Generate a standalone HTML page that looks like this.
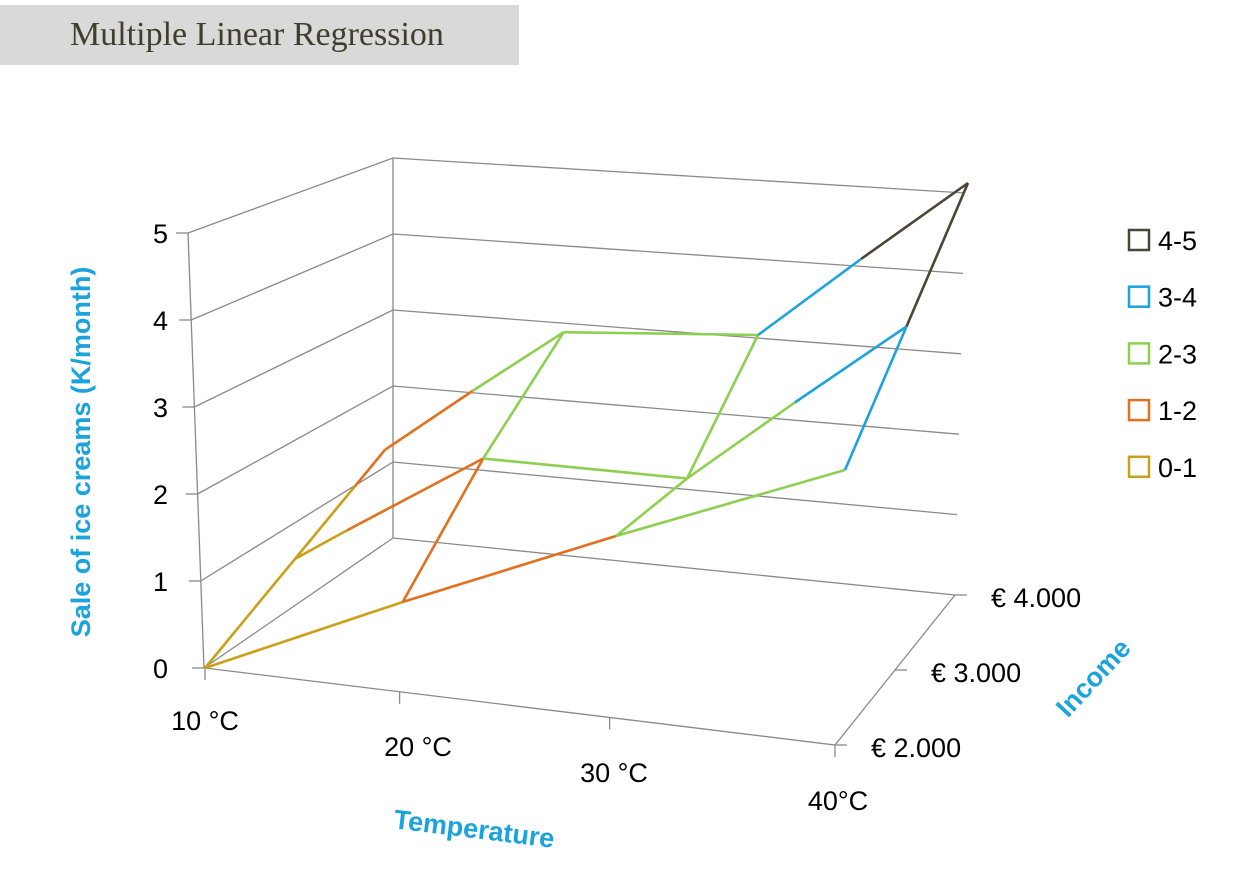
<!DOCTYPE html>
<html><head><meta charset="utf-8">
<style>
html,body{margin:0;padding:0;background:#fff;}
body{width:1253px;height:871px;position:relative;overflow:hidden;font-family:"Liberation Sans",sans-serif;}
#title{position:absolute;left:0;top:5px;width:519px;height:60px;background:#d9d9d9;}
#title span{position:absolute;left:70px;top:11px;font-family:"Liberation Serif",serif;font-size:34px;color:#3f3f2f;}
svg{position:absolute;left:0;top:0;}
</style></head>
<body>
<div id="title"><span>Multiple Linear Regression</span></div>
<svg id="chart" width="1253" height="871"></svg>
<script>
const temps = ['10 °C','20 °C','30 °C','40°C'];
const incomes = ['€ 2.000','€ 3.000','€ 4.000'];
const zTicks = [0,1,2,3,4,5];
// sales (K/month) rows = incomes, cols = temps
const sales2000 = [0, 1, 2, 3];
const sales3000 = [0.6, 2, 2, 4];
const sales4000 = [1.2, 2.8, 3, 5];
const bandLabels = ['0-1','1-2','2-3','3-4','4-5'];
const bandColors = ['#c9a01a','#e2701f','#8dcf4f','#1ba3dd','#4a4535'];

const NS='http://www.w3.org/2000/svg';
const svg=document.getElementById('chart');
function mk(tag,attrs,parent){const e=document.createElementNS(NS,tag);for(const k in attrs)e.setAttribute(k,attrs[k]);(parent||svg).appendChild(e);return e;}

function persp(u){return u + 0.11*u*(u-1);}
// projection: u = temp fraction, v = income fraction, z = value
function proj(u,v,z){
  const pu=persp(u);
  return [205 + 640*pu + (180-57*u)*v, 668 + 60*u - 115*v - 86*z];
}
function leftWall(z){return [[188+16*(1-z/5), 668-87*z],[393,538-76*z]];}
function backWall(z){return [[393,538-76*z],[955+2*z,595-80.4*z]];}

const grid=mk('g',{});


zTicks.forEach(z=>{
  const a=leftWall(z), b=backWall(z);
  const pl=mk('polyline',{points:`${a[0][0]},${a[0][1]} ${a[1][0]},${a[1][1]} ${b[1][0]},${b[1][1]}`,fill:'none',stroke:'#8a8a8a','stroke-width':1.3},grid);
  
  
  const t=mk('line',{x1:a[0][0]-12,y1:a[0][1],x2:a[0][0],y2:a[0][1],stroke:'#8a8a8a','stroke-width':1.3},grid);
  
  
  const lb=mk('text',{x:168,y:a[0][1]+10,'text-anchor':'end','font-size':27,fill:'#000'},grid);
  
  
  lb.textContent=z;
});
mk('line',{x1:188,y1:233,x2:204,y2:668,stroke:'#8a8a8a','stroke-width':1.3},grid);
mk('line',{x1:393,y1:158,x2:393,y2:538,stroke:'#8a8a8a','stroke-width':1.3},grid);
mk('polyline',{points:'205,668 835,745 955,595',fill:'none',stroke:'#8a8a8a','stroke-width':1.3},grid);

const tempLabelPos=[[205,730],[418,756],[614,782],[838,810]];
temps.forEach((t,i)=>{
  const f=i/(temps.length-1);
  const pf=persp(f);
  const x=205+630*pf, y=668+77*pf;
  const tk=mk('line',{x1:x,y1:y,x2:x,y2:y+12,stroke:'#8a8a8a','stroke-width':1.3},grid);
  
  
  const lb=mk('text',{x:tempLabelPos[i][0],y:tempLabelPos[i][1],'text-anchor':'middle','font-size':27},grid);
  
  
  lb.textContent=t;
});
incomes.forEach((t,i)=>{
  const f=i/(incomes.length-1);
  const x=835+120*f, y=745-150*f;
  const tk=mk('line',{x1:x,y1:y,x2:x+12,y2:y,stroke:'#8a8a8a','stroke-width':1.3},grid);
  
  
  const lb=mk('text',{x:x+36,y:y+12,'font-size':27},grid);
  
  
  lb.textContent=t;
});

const yt=mk('text',{x:0,y:0,transform:'translate(90,452) rotate(-90)','text-anchor':'middle','font-size':27,'font-weight':'bold',fill:'#1ba3dd'});


yt.textContent='Sale of ice creams (K/month)';
const xt=mk('text',{x:0,y:0,transform:'translate(473,838) rotate(7)','text-anchor':'middle','font-size':27,'font-weight':'bold',fill:'#1ba3dd'});


xt.textContent='Temperature';
const it=mk('text',{x:0,y:0,transform:'translate(1100,684) rotate(-47)','text-anchor':'middle','font-size':27,'font-weight':'bold',fill:'#1ba3dd'});


it.textContent='Income';

const rows=[sales2000,sales3000,sales4000];
const surf=mk('g',{fill:'none','stroke-width':2.6,'stroke-linejoin':'round'});


function edge(u1,v1,z1,u2,v2,z2){
  const cuts=[0,1];
  const lo=Math.min(z1,z2),hi=Math.max(z1,z2);
  for(let k=Math.ceil(lo);k<=Math.floor(hi);k++){if(k>lo&&k<hi)cuts.push((k-z1)/(z2-z1));}
  cuts.sort((a,b)=>a-b);
  for(let i=0;i<cuts.length-1;i++){
    const a=cuts[i],b=cuts[i+1];
    const zm=z1+(z2-z1)*(a+b)/2;
    const band=Math.max(0,Math.min(4,Math.floor(zm)));
    const p=proj(u1+(u2-u1)*a,v1+(v2-v1)*a,z1+(z2-z1)*a);
    const q=proj(u1+(u2-u1)*b,v1+(v2-v1)*b,z1+(z2-z1)*b);
    const ln=mk('line',{x1:p[0],y1:p[1],x2:q[0],y2:q[1],stroke:bandColors[band]},surf);
    
    
  }
}
const nu=temps.length-1, nv=incomes.length-1;
for(let r=0;r<rows.length;r++){
  for(let c=0;c<temps.length;c++){
    if(c<temps.length-1) edge(c/nu,r/nv,rows[r][c],(c+1)/nu,r/nv,rows[r][c+1]);
    if(r<rows.length-1) edge(c/nu,r/nv,rows[r][c],c/nu,(r+1)/nv,rows[r+1][c]);
  }
}

const lg=mk('g',{});


for(let i=bandLabels.length-1;i>=0;i--){
  const y=240+(bandLabels.length-1-i)*56.7;
  const sw=mk('rect',{x:1129,y:y-10,width:20,height:20,fill:'#fff',stroke:bandColors[i],'stroke-width':2.5},lg);
  
  
  const tx=mk('text',{x:1158,y:y+10,'font-size':27},lg);
  
  
  tx.textContent=bandLabels[i];
}
</script>
</body></html>
